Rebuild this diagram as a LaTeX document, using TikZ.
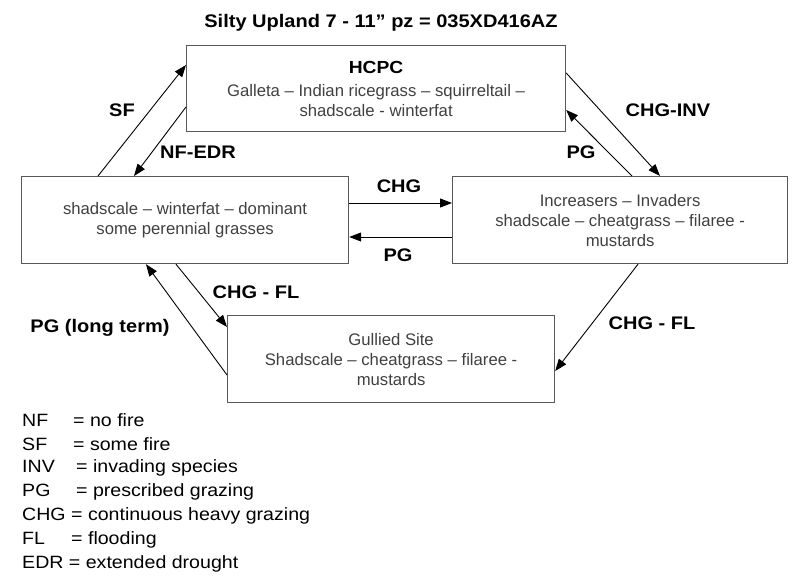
\documentclass[tikz,border=0pt]{standalone}
\usepackage{fontspec}
\setmainfont{Liberation Sans}
\newfontfamily\lblfont[FakeStretch=1.1]{Liberation Sans}
\usetikzlibrary{arrows.meta,calc}

\begin{document}
\begin{tikzpicture}[x=1pt,y=-1pt]
            \tikzstyle{every node}+=[inner sep=0pt]
            \tikzstyle{state}=[draw=black!65, line width=1.2pt, anchor=north west, align=center, text=black!75, font=\fontsize{16.7}{20}\selectfont]
            \tikzstyle{trans}=[draw=black, line width=0.9pt, -{Triangle[length=12pt,width=9pt]}]
            \tikzstyle{lbl}=[font=\lblfont\bfseries\fontsize{18.2}{20}\selectfont]
            \tikzstyle{legend}=[anchor=west, font=\lblfont\fontsize{17.8}{20}\selectfont]
            \useasboundingbox (0,0) rectangle (800,581);
            \node [lbl] (title) at (381,23) {Silty Upland 7 - 11” pz = 035XD416AZ};
            \node [state, minimum width=379pt, minimum height=86pt] (hcpc) at (186,45) {{\lblfont\bfseries\fontsize{17.5}{20}\selectfont\color{black}HCPC}\\[3pt]Galleta – Indian ricegrass – squirreltail –\\shadscale - winterfat};
            \node [state, minimum width=327pt, minimum height=87pt] (shad) at (21,176) {shadscale – winterfat – dominant\\some perennial grasses};
            \node [state, minimum width=335pt, minimum height=87pt] (incr) at (452,176) {Increasers – Invaders\\shadscale – cheatgrass – filaree -\\mustards};
            \node [state, minimum width=327pt, minimum height=87pt] (gully) at (227,315) {Gullied Site\\Shadscale – cheatgrass – filaree -\\mustards};
            \draw [trans] ($(shad.north west)+(77,0)$) -- ($(hcpc.north west)+(0,20)$);
            \node [lbl] (sf) at (122,110) {SF};
            \draw [trans] ($(hcpc.north west)+(0,62)$) -- ($(shad.north west)+(113,0)$);
            \node [lbl] (nfedr) at (198,152) {NF-EDR};
            \draw [trans] ($(hcpc.north east)+(0,28)$) -- ($(incr.north west)+(208,0)$);
            \node [lbl] (chginv) at (668,110) {CHG-INV};
            \draw [trans] ($(incr.north west)+(180,0)$) -- ($(hcpc.north east)+(0,65)$);
            \node [lbl] (pgup) at (581,152) {PG};
            \draw [trans] ($(shad.north east)+(0,27)$) -- ($(incr.north west)+(0,27)$);
            \node [lbl] (chg) at (399,186) {CHG};
            \draw [trans] ($(incr.north west)+(0,61)$) -- ($(shad.north east)+(0,61)$);
            \node [lbl] (pgmid) at (398,255) {PG};
            \draw [trans] ($(shad.south west)+(155,0)$) -- ($(gully.north west)+(0,12)$);
            \node [lbl] (chgfll) at (256,292) {CHG - FL};
            \draw [trans] ($(gully.north west)+(0,60)$) -- ($(shad.south west)+(125,0)$);
            \node [lbl] (pglong) at (100,328) {PG (long term)};
            \draw [trans] ($(incr.south west)+(186,0)$) -- ($(gully.north east)+(0,56)$);
            \node [lbl] (chgflr) at (652,323) {CHG - FL};
            % abbreviations
            \node [legend] (nf) at (22,420) {\makebox[51pt][l]{NF}= no fire};
            \node [legend] (sfl) at (22,444) {\makebox[51pt][l]{SF}= some fire};
            \node [legend] (inv) at (22,468) {\makebox[54pt][l]{INV}= invading species};
            \node [legend] (pgl) at (22,492) {\makebox[54pt][l]{PG}= prescribed grazing};
            \node [legend] (chgl) at (22,516) {CHG = continuous heavy grazing};
            \node [legend] (fl) at (22,540) {\makebox[49pt][l]{FL}= flooding};
            \node [legend] (edr) at (22,564) {EDR = extended drought};
\end{tikzpicture}
\end{document}
